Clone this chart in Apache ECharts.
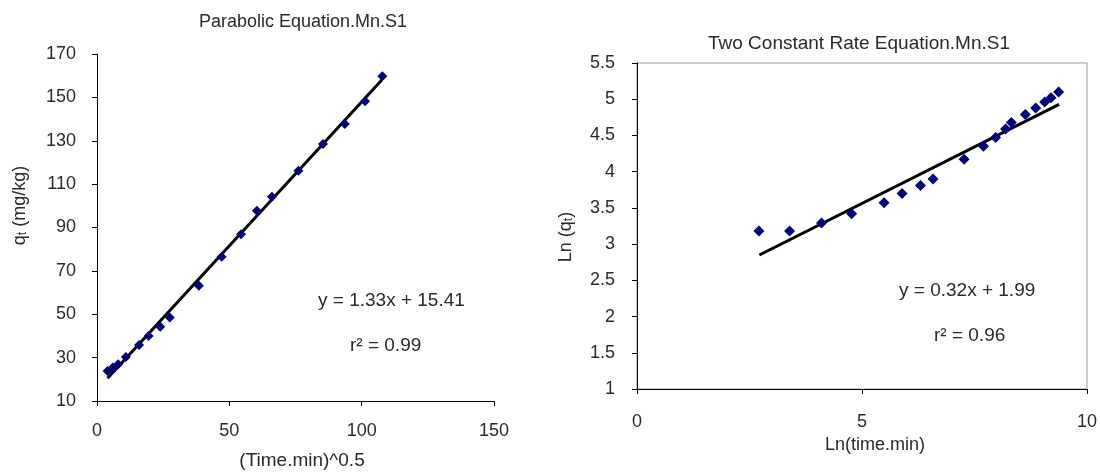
<!DOCTYPE html>
<html>
<head>
<meta charset="utf-8">
<script src="https://cdn.jsdelivr.net/npm/echarts@6/dist/echarts.min.js"></script>
<style>
html,body{margin:0;padding:0;background:#fff;}
#chart{width:1100px;height:476px;}
</style>
</head>
<body>
<div id="chart"></div>
<script>
// Left: Parabolic equation data  (x = (time.min)^0.5, y = qt mg/kg)
const parabolicX = [4.0, 6.0, 8.0, 10.9, 15.9, 19.5, 23.9, 27.5, 38.5, 47.1, 54.4, 60.4, 66.1, 76.1, 85.4, 93.6, 101.3, 107.8];
const parabolicY = [23.8, 25.4, 26.9, 30.3, 35.8, 40.0, 44.2, 48.5, 63.1, 76.5, 86.9, 97.7, 104.2, 116.2, 128.5, 137.7, 148.2, 159.7];
const parabolicTrendX = [4.0, 107.6];
const parabolicTrendY = [20.5, 158.0];

// Right: Two constant rate equation data (x = Ln(time.min), y = Ln(qt))
const twoRateX = [2.71, 3.39, 4.10, 4.77, 5.49, 5.89, 6.30, 6.58, 7.27, 7.70, 7.97, 8.19, 8.32, 8.63, 8.86, 9.06, 9.20, 9.37];
const twoRateY = [3.18, 3.18, 3.29, 3.42, 3.57, 3.70, 3.81, 3.90, 4.17, 4.35, 4.47, 4.59, 4.68, 4.79, 4.88, 4.96, 5.02, 5.10];
const twoRateTrendX = [2.72, 9.38];
const twoRateTrendY = [2.85, 4.93];

// Tick settings
const leftXTicks = {min: 0, max: 150, interval: 50};
const leftYTicks = {min: 10, max: 170, interval: 20};
const rightXTicks = {min: 0, max: 10, interval: 5};
const rightYTicks = {min: 1, max: 5.5, interval: 0.5};

const FONT = '"Liberation Sans", Arial, sans-serif';
const TXT = '#2a2a2a';

function zip(xs, ys){ return xs.map((x,i)=>[x, ys[i]]); }

function axisCommon(t){
  return {
    type: 'value', min: t.min, max: t.max, interval: t.interval,
    splitLine: {show: false},
    axisLine: {show: true, lineStyle: {color: '#000', width: 1}},
    axisTick: {show: true, inside: false, length: 5, lineStyle: {color: '#000'}},
    axisLabel: {color: TXT, fontSize: 18, fontFamily: FONT, margin: 21},
    nameTextStyle: {color: TXT, fontSize: 18, fontFamily: FONT}
  };
}

const richName = {
  a: {fontSize: 18, color: TXT, fontFamily: FONT, verticalAlign: 'bottom', lineHeight: 22},
  s: {fontSize: 12, color: TXT, fontFamily: FONT, verticalAlign: 'bottom', lineHeight: 15}
};

const chart = echarts.init(document.getElementById('chart'), null, {renderer: 'canvas'});

const option = {
  backgroundColor: '#fff',
  animation: false,
  title: [
    {text: 'Parabolic Equation.Mn.S1', left: 298, top: 8, textAlign: 'center',
     textStyle: {fontSize: 18, fontWeight: 'normal', color: TXT, fontFamily: FONT}},
    {text: 'Two Constant Rate Equation.Mn.S1', left: 854, top: 29, textAlign: 'center',
     textStyle: {fontSize: 19, fontWeight: 'normal', color: TXT, fontFamily: FONT}}
  ],
  grid: [
    {left: 97, right: 606, top: 54, bottom: 75, show: false},
    {left: 637, right: 11, top: 63, bottom: 87, show: true, borderColor: '#999', borderWidth: 1, backgroundColor: 'transparent'}
  ],
  xAxis: [
    Object.assign(axisCommon(leftXTicks), {gridIndex: 0, name: '(Time.min)^0.5', nameLocation: 'middle', nameGap: 50,
      nameTextStyle: {color: TXT, fontSize: 19, fontFamily: FONT, padding: [0, 0, 0, 13]}}),
    Object.assign(axisCommon(rightXTicks), {gridIndex: 1, name: 'Ln(time.min)', nameLocation: 'middle', nameGap: 46,
      axisLabel: {color: TXT, fontSize: 18, fontFamily: FONT, margin: 24},
      nameTextStyle: {color: TXT, fontSize: 18, fontFamily: FONT, padding: [0, 0, 0, 26]}})
  ],
  yAxis: [
    Object.assign(axisCommon(leftYTicks), {gridIndex: 0, nameLocation: 'middle', nameGap: 68,
      name: '{a|q}{s|t}{a| (mg/kg)}',
      nameTextStyle: {color: TXT, fontFamily: FONT, padding: [0, 0, 0, 44], rich: richName}}),
    Object.assign(axisCommon(rightYTicks), {gridIndex: 1, nameLocation: 'middle', nameGap: 62,
      axisLabel: {color: TXT, fontSize: 18, fontFamily: FONT, margin: 22},
      name: '{a|Ln (q}{s|t}{a|)}',
      nameTextStyle: {color: TXT, fontFamily: FONT, padding: [0, 22, 0, 0], rich: richName}})
  ],
  series: [
    {type: 'scatter', xAxisIndex: 0, yAxisIndex: 0, data: zip(parabolicX, parabolicY),
     symbol: 'diamond', symbolSize: 10, itemStyle: {color: '#000080', opacity: 1}, z: 3},
    {type: 'line', xAxisIndex: 0, yAxisIndex: 0, data: zip(parabolicTrendX, parabolicTrendY),
     symbol: 'none', lineStyle: {color: '#000', width: 3}, z: 2},
    {type: 'scatter', xAxisIndex: 1, yAxisIndex: 1, data: zip(twoRateX, twoRateY),
     symbol: 'diamond', symbolSize: 11, itemStyle: {color: '#000080', opacity: 1}, z: 3},
    {type: 'line', xAxisIndex: 1, yAxisIndex: 1, data: zip(twoRateTrendX, twoRateTrendY),
     symbol: 'none', lineStyle: {color: '#000', width: 3}, z: 2}
  ],
  graphic: [
    {type: 'text', left: 318, top: 291, style: {text: 'y = 1.33x + 15.41', fill: TXT, font: '19px ' + FONT}},
    {type: 'text', left: 350, top: 336, style: {text: 'r² = 0.99', fill: TXT, font: '19px ' + FONT}},
    {type: 'text', left: 899, top: 281, style: {text: 'y = 0.32x + 1.99', fill: TXT, font: '19px ' + FONT}},
    {type: 'text', left: 934, top: 326, style: {text: 'r² = 0.96', fill: TXT, font: '19px ' + FONT}}
  ]
};
chart.setOption(option);
</script>
</body>
</html>
